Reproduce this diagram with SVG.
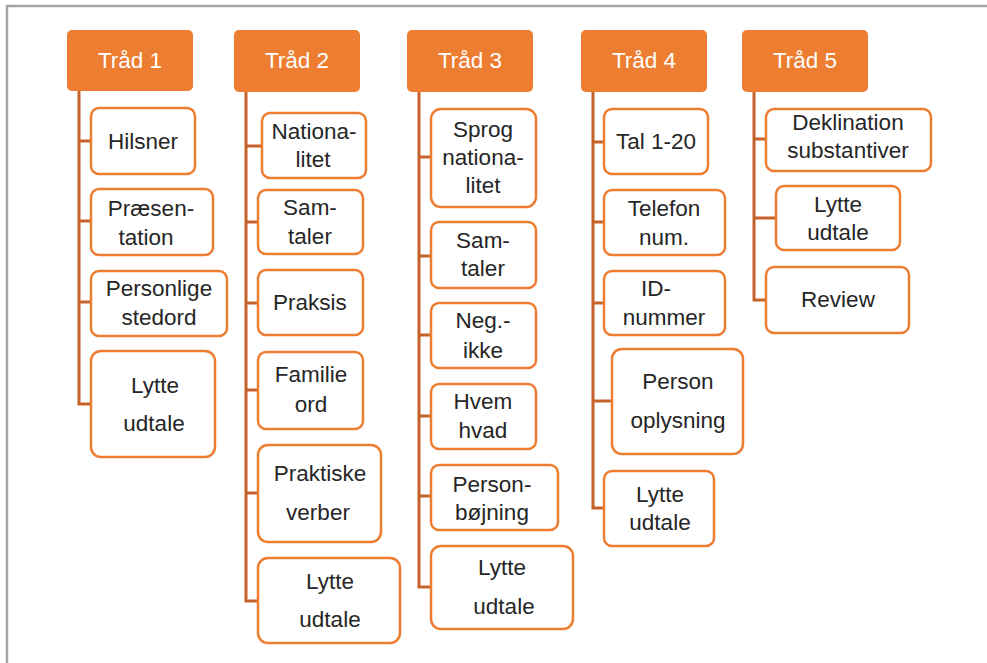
<svg xmlns="http://www.w3.org/2000/svg" width="987" height="663" viewBox="0 0 987 663">
<style>
.frame{fill:none;stroke:#A3A5A8;stroke-width:2.5}
.hd{fill:#ED7D31}
.ht{fill:#FFFFFF;font-family:"Liberation Sans",Arial,sans-serif;font-size:22.5px;text-anchor:middle}
.bx{fill:#FFFFFF;stroke:#ED7D31;stroke-width:2.5}
.t{fill:#262626;font-family:"Liberation Sans",Arial,sans-serif;font-size:22.5px;text-anchor:middle}
.cn{fill:none;stroke:#C5622A;stroke-width:3}
</style>
<rect width="987" height="663" fill="#FFFFFF"/>
<path class="frame" d="M7,663 V6 H987"/>
<g id="connectors">
<path class="cn" d="M79,91 V404 H91 M79,141 H91 M79,221 H91 M79,302 H91"/>
<path class="cn" d="M246,92 V601 H258 M246,146 H262 M246,222 H258 M246,303 H258 M246,390 H258 M246,493 H258"/>
<path class="cn" d="M419,92 V587 H431 M419,157 H431 M419,256 H431 M419,335 H431 M419,416 H431 M419,496 H431"/>
<path class="cn" d="M593,92 V508 H604 M593,142 H604 M593,222 H604 M593,303 H604 M593,401 H612"/>
<path class="cn" d="M754,92 V300 H766 M754,139 H766 M754,218 H776"/>
</g>
<g id="trad1"><rect class="hd" x="67" y="30" width="126" height="61" rx="5"/><text class="ht" x="130" y="68">Tråd 1</text></g>
<g id="trad2"><rect class="hd" x="234" y="30" width="126" height="62" rx="5"/><text class="ht" x="297" y="68">Tråd 2</text></g>
<g id="trad3"><rect class="hd" x="407" y="30" width="126" height="62" rx="5"/><text class="ht" x="470" y="68">Tråd 3</text></g>
<g id="trad4"><rect class="hd" x="581" y="30" width="126" height="62" rx="5"/><text class="ht" x="644" y="68">Tråd 4</text></g>
<g id="trad5"><rect class="hd" x="742" y="30" width="126" height="62" rx="5"/><text class="ht" x="805" y="68">Tråd 5</text></g>

<g id="hilsner"><rect class="bx" x="91" y="108" width="104" height="66" rx="8"/><text class="t" x="143" y="149">Hilsner</text></g>
<g id="praesentation"><rect class="bx" x="91" y="189" width="122" height="66" rx="8"/><text class="t" x="151" y="216">Præsen-</text><text class="t" x="146" y="245">tation</text></g>
<g id="personlige"><rect class="bx" x="91" y="271" width="136" height="65" rx="8"/><text class="t" x="159" y="296">Personlige</text><text class="t" x="159" y="325">stedord</text></g>
<g id="lytte1"><rect class="bx" x="91" y="351" width="124" height="106" rx="10"/><text class="t" x="155" y="393">Lytte</text><text class="t" x="154" y="431">udtale</text></g>

<g id="nationalitet"><rect class="bx" x="262" y="113" width="104" height="65" rx="8"/><text class="t" x="314" y="139">Nationa-</text><text class="t" x="313" y="167">litet</text></g>
<g id="samtaler2"><rect class="bx" x="258" y="190" width="105" height="64" rx="8"/><text class="t" x="310" y="215">Sam-</text><text class="t" x="310" y="244">taler</text></g>
<g id="praksis"><rect class="bx" x="258" y="270" width="105" height="65" rx="8"/><text class="t" x="310" y="310">Praksis</text></g>
<g id="familieord"><rect class="bx" x="258" y="352" width="105" height="77" rx="8"/><text class="t" x="311" y="382">Familie</text><text class="t" x="311" y="412">ord</text></g>
<g id="praktiske"><rect class="bx" x="258" y="445" width="123" height="97" rx="10"/><text class="t" x="320" y="481">Praktiske</text><text class="t" x="318" y="520">verber</text></g>
<g id="lytte2"><rect class="bx" x="258" y="558" width="142" height="85" rx="10"/><text class="t" x="330" y="589">Lytte</text><text class="t" x="330" y="627">udtale</text></g>

<g id="sprog"><rect class="bx" x="431" y="109" width="105" height="98" rx="10"/><text class="t" x="483" y="137">Sprog</text><text class="t" x="483" y="165">nationa-</text><text class="t" x="483" y="193">litet</text></g>
<g id="samtaler3"><rect class="bx" x="431" y="222" width="105" height="66" rx="8"/><text class="t" x="483" y="248">Sam-</text><text class="t" x="483" y="276">taler</text></g>
<g id="negikke"><rect class="bx" x="431" y="303" width="105" height="65" rx="8"/><text class="t" x="483" y="328">Neg.-</text><text class="t" x="483" y="358">ikke</text></g>
<g id="hvemhvad"><rect class="bx" x="431" y="384" width="105" height="65" rx="8"/><text class="t" x="483" y="409">Hvem</text><text class="t" x="483" y="438">hvad</text></g>
<g id="personbojning"><rect class="bx" x="431" y="465" width="127" height="65" rx="8"/><text class="t" x="492" y="492">Person-</text><text class="t" x="492" y="520">bøjning</text></g>
<g id="lytte3"><rect class="bx" x="431" y="546" width="142" height="83" rx="10"/><text class="t" x="502" y="575">Lytte</text><text class="t" x="504" y="614">udtale</text></g>

<g id="tal"><rect class="bx" x="604" y="109" width="104" height="65" rx="8"/><text class="t" x="656" y="149">Tal 1-20</text></g>
<g id="telefon"><rect class="bx" x="604" y="190" width="121" height="65" rx="8"/><text class="t" x="664" y="216">Telefon</text><text class="t" x="664" y="245">num.</text></g>
<g id="idnummer"><rect class="bx" x="604" y="271" width="121" height="64" rx="8"/><text class="t" x="656" y="296">ID-</text><text class="t" x="664" y="325">nummer</text></g>
<g id="personoplysning"><rect class="bx" x="612" y="349" width="131" height="105" rx="10"/><text class="t" x="678" y="389">Person</text><text class="t" x="678" y="428">oplysning</text></g>
<g id="lytte4"><rect class="bx" x="604" y="471" width="110" height="75" rx="8"/><text class="t" x="660" y="502">Lytte</text><text class="t" x="660" y="530">udtale</text></g>

<g id="deklination"><rect class="bx" x="766" y="109" width="165" height="62" rx="8"/><text class="t" x="848" y="130">Deklination</text><text class="t" x="848" y="158">substantiver</text></g>
<g id="lytte5"><rect class="bx" x="776" y="186" width="124" height="64" rx="8"/><text class="t" x="838" y="212">Lytte</text><text class="t" x="838" y="240">udtale</text></g>
<g id="review"><rect class="bx" x="766" y="267" width="143" height="66" rx="8"/><text class="t" x="838" y="307">Review</text></g>
</svg>
